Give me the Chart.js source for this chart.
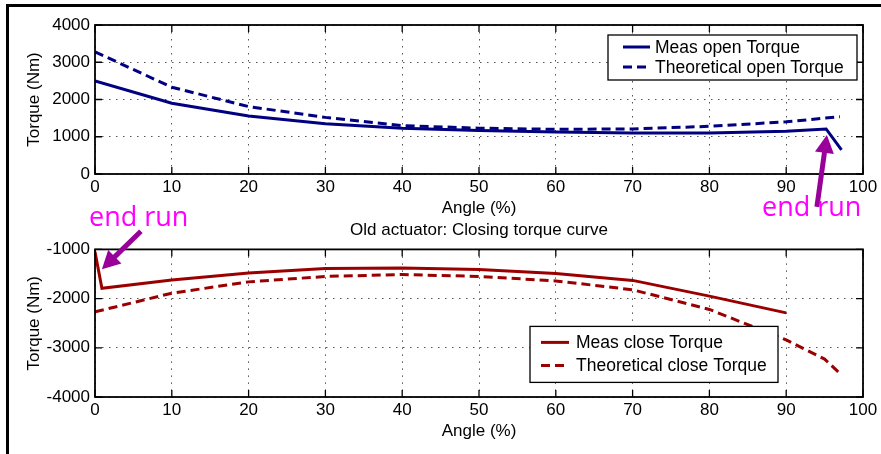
<!DOCTYPE html>
<html>
<head>
<meta charset="utf-8">
<script src="https://cdn.jsdelivr.net/npm/chart.js@4"></script>
<style>
  html, body { margin: 0; padding: 0; background: #fff; }
  #wrap { position: relative; width: 881px; height: 454px; overflow: hidden; }
  #frame { position: absolute; left: 6px; top: 4px; width: 900px; height: 500px;
           border-left: 3px solid #000; border-top: 3px solid #000; }
  canvas { position: absolute; left: 0; }
  #openChart { top: 0; }
  #closeChart { top: 196px; }
</style>
</head>
<body>
<div id="wrap">
  <div id="frame"></div>
  <canvas id="openChart" width="881" height="222"></canvas>
  <canvas id="closeChart" width="881" height="258"></canvas>
</div>
<script>
// opening curve (top)
const openAngleMeas = [0, 10, 20, 30, 40, 50, 60, 70, 80, 90, 95.2, 97.2];
const openTorqueMeas = [2500, 1900, 1560, 1350, 1230, 1170, 1130, 1100, 1100, 1150, 1210, 650];
const openAngleTheo = [0, 10, 20, 30, 40, 50, 60, 70, 80, 90, 97];
const openTorqueTheo = [3280, 2330, 1810, 1520, 1300, 1230, 1200, 1210, 1280, 1400, 1540];

// closing curve (bottom)
const closeAngleMeas = [0, 0.9, 10, 20, 30, 40, 50, 60, 70, 80, 90];
const closeTorqueMeas = [-1050, -1790, -1620, -1480, -1390, -1380, -1410, -1490, -1630, -1950, -2290];
const closeAngleTheo = [0, 10, 20, 30, 40, 50, 60, 70, 80, 90, 95, 97];
const closeTorqueTheo = [-2270, -1890, -1660, -1550, -1510, -1550, -1640, -1820, -2220, -2840, -3230, -3520];

const labelsOpen = ['Meas open Torque', 'Theoretical open Torque'];
const labelsClose = ['Meas close Torque', 'Theoretical close Torque'];
const titleClose = 'Old actuator: Closing torque curve';

// "end run" arrows: tip in data units
const endRunOpen = {angle: 95.3, torque: 1050};
const endRunClose = {angle: 0.9, torque: -1405};

const FONT = '"Liberation Sans", Arial, Helvetica, sans-serif';
const BLUE = '#000080';
const RED = '#9b0000';
const PURPLE = '#990099';

function pts(xs, ys) {
  return xs.map((x, i) => ({x: x, y: ys[i]}));
}

// MATLAB-like box with inward ticks
const boxPlugin = {
  id: 'mBox',
  afterDatasetsDraw(chart) {
    const {ctx, chartArea: a, scales} = chart;
    ctx.save();
    ctx.strokeStyle = '#000';
    ctx.lineWidth = 1.3;
    ctx.beginPath();
    scales.x.ticks.forEach(t => {
      const px = scales.x.getPixelForValue(t.value);
      ctx.moveTo(px, a.top); ctx.lineTo(px, a.top + 7);
      ctx.moveTo(px, a.bottom); ctx.lineTo(px, a.bottom - 7);
    });
    scales.y.ticks.forEach(t => {
      const py = scales.y.getPixelForValue(t.value);
      ctx.moveTo(a.left, py); ctx.lineTo(a.left + 7, py);
      ctx.moveTo(a.right, py); ctx.lineTo(a.right - 7, py);
    });
    ctx.stroke();
    ctx.lineWidth = 1.8;
    ctx.strokeRect(a.left, a.top, a.right - a.left, a.bottom - a.top);
    ctx.restore();
  }
};

function drawLegend(chart, o) {
  const ctx = chart.ctx;
  const ds = chart.data.datasets;
  ctx.save();
  ctx.fillStyle = '#fff';
  ctx.fillRect(o.x, o.y, o.w, o.h);
  ctx.strokeStyle = '#000';
  ctx.lineWidth = 1.3;
  ctx.strokeRect(o.x, o.y, o.w, o.h);
  ds.forEach((d, i) => {
    const cy = o.y + o.first + i * o.row;
    ctx.strokeStyle = d.borderColor;
    ctx.lineWidth = 3;
    ctx.setLineDash(d.borderDash || []);
    ctx.beginPath();
    ctx.moveTo(o.x + o.s0, cy);
    ctx.lineTo(o.x + o.s1, cy);
    ctx.stroke();
    ctx.setLineDash([]);
    ctx.fillStyle = '#000';
    ctx.font = '17.5px ' + FONT;
    ctx.textBaseline = 'middle';
    ctx.fillText(d.label, o.x + o.tx, cy + 1);
  });
  ctx.restore();
}

function drawArrow(ctx, x0, y0, x1, y1) {
  const ang = Math.atan2(y1 - y0, x1 - x0);
  const hl = 18, hw = 9.5;
  const bx = x1 - hl * Math.cos(ang), by = y1 - hl * Math.sin(ang);
  ctx.save();
  ctx.strokeStyle = PURPLE;
  ctx.fillStyle = PURPLE;
  ctx.lineWidth = 5;
  ctx.beginPath();
  ctx.moveTo(x0, y0);
  ctx.lineTo(bx + 2 * Math.cos(ang), by + 2 * Math.sin(ang));
  ctx.stroke();
  ctx.beginPath();
  ctx.moveTo(x1, y1);
  ctx.lineTo(bx + hw * Math.sin(ang), by - hw * Math.cos(ang));
  ctx.lineTo(bx - hw * Math.sin(ang), by + hw * Math.cos(ang));
  ctx.closePath();
  ctx.fill();
  ctx.restore();
}

function drawEndRun(ctx, x, y) {
  ctx.save();
  ctx.font = '27px "Open Sans", "DejaVu Sans", sans-serif';
  ctx.fillStyle = '#ff00ff';
  ctx.textBaseline = 'middle';
  ctx.fillText('end run', x, y);
  ctx.restore();
}

const openNotes = {
  id: 'openNotes',
  afterDraw(chart) {
    const {ctx, chartArea: a, scales} = chart;
    drawLegend(chart, {x: a.right - 255, y: a.top + 10, w: 249, h: 45, first: 12, row: 20, s0: 15, s1: 42, tx: 47});
    const tx = scales.x.getPixelForValue(endRunOpen.angle);
    const ty = scales.y.getPixelForValue(endRunOpen.torque);
    drawArrow(ctx, tx - 10, ty + 72, tx, ty);
    drawEndRun(ctx, a.right - 101, 208);
  }
};

const closeNotes = {
  id: 'closeNotes',
  afterDraw(chart) {
    const {ctx, chartArea: a, scales} = chart;
    drawLegend(chart, {x: a.left + 435, y: a.top + 77, w: 248, h: 56, first: 16, row: 23, s0: 11, s1: 39, tx: 46});
    const tx = scales.x.getPixelForValue(endRunClose.angle);
    const ty = scales.y.getPixelForValue(endRunClose.torque);
    drawArrow(ctx, tx + 39, ty - 38, tx, ty);
    drawEndRun(ctx, a.left - 6, 22);
  }
};

function axes(yMin, yMax, xHeight, xTitlePad) {
  return {
    x: {
      type: 'linear', min: 0, max: 100,
      afterFit: s => { s.height = xHeight; },
      ticks: {stepSize: 10, color: '#000', padding: 3, font: {family: FONT, size: 17},
              callback: v => String(v)},
      grid: {color: '#555', lineWidth: 1, drawTicks: false},
      border: {display: false, dash: [1.5, 5.5]},
      title: {display: true, text: 'Angle (%)', color: '#000', font: {family: FONT, size: 17},
              padding: {top: 0, bottom: xTitlePad}}
    },
    y: {
      min: yMin, max: yMax,
      afterFit: s => { s.width = 95; },
      ticks: {stepSize: 1000, color: '#000', padding: 5, font: {family: FONT, size: 17},
              callback: v => String(v)},
      grid: {color: '#555', lineWidth: 1, drawTicks: false},
      border: {display: false, dash: [1.5, 5.5]},
      title: {display: true, text: 'Torque (Nm)', color: '#000', font: {family: FONT, size: 17},
              padding: {top: 24, bottom: 0}}
    }
  };
}

function line(label, data, color, dashed) {
  return {
    label: label, data: data, borderColor: color, backgroundColor: color,
    borderWidth: 3, borderDash: dashed ? [9, 5] : [], pointRadius: 0, tension: 0, fill: false
  };
}

new Chart(document.getElementById('openChart'), {
  type: 'line',
  data: {
    datasets: [
      line(labelsOpen[0], pts(openAngleMeas, openTorqueMeas), BLUE, false),
      line(labelsOpen[1], pts(openAngleTheo, openTorqueTheo), BLUE, true)
    ]
  },
  options: {
    responsive: false, animation: false,
    layout: {padding: {top: 25, right: 18, left: 0, bottom: 0}},
    plugins: {legend: {display: false}, tooltip: {enabled: false}},
    scales: axes(0, 4000, 48, 3)
  },
  plugins: [boxPlugin, openNotes]
});

new Chart(document.getElementById('closeChart'), {
  type: 'line',
  data: {
    datasets: [
      line(labelsClose[0], pts(closeAngleMeas, closeTorqueMeas), RED, false),
      line(labelsClose[1], pts(closeAngleTheo, closeTorqueTheo), RED, true)
    ]
  },
  options: {
    responsive: false, animation: false,
    layout: {padding: {top: 0, right: 18, left: 0, bottom: 0}},
    plugins: {
      legend: {display: false}, tooltip: {enabled: false},
      title: {display: true, text: titleClose, color: '#000', fullSize: false,
              font: {family: FONT, size: 17, weight: 'normal'}, padding: {top: 24, bottom: 9}}
    },
    scales: axes(-4000, -1000, 57, 12)
  },
  plugins: [boxPlugin, closeNotes]
});
</script>
</body>
</html>
